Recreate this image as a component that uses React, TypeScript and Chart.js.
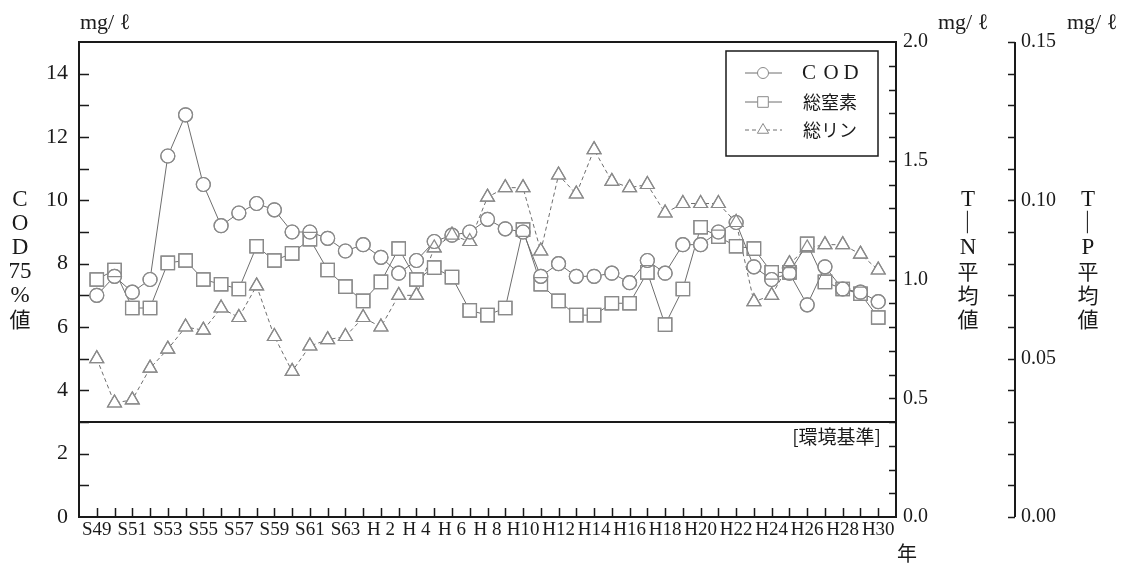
import React, { useEffect, useRef } from 'react';
import { Chart, registerables } from 'chart.js';

Chart.register(...registerables);

// ---------------- data ----------------
const years = [
  'S49', 'S50', 'S51', 'S52', 'S53', 'S54', 'S55', 'S56', 'S57', 'S58', 'S59', 'S60', 'S61', 'S62', 'S63',
  'H 1', 'H 2', 'H 3', 'H 4', 'H 5', 'H 6', 'H 7', 'H 8', 'H 9', 'H10',
  'H11', 'H12', 'H13', 'H14', 'H15', 'H16', 'H17', 'H18', 'H19', 'H20',
  'H21', 'H22', 'H23', 'H24', 'H25', 'H26', 'H27', 'H28', 'H29', 'H30',
];

// COD 75% value (mg/l), left axis
const cod = [
  7.0, 7.6, 7.1, 7.5, 11.4, 12.7, 10.5, 9.2, 9.6, 9.9, 9.7, 9.0, 9.0, 8.8, 8.4,
  8.6, 8.2, 7.7, 8.1, 8.7, 8.9, 9.0, 9.4, 9.1, 9.0,
  7.6, 8.0, 7.6, 7.6, 7.7, 7.4, 8.1, 7.7, 8.6, 8.6,
  9.0, 9.3, 7.9, 7.5, 7.7, 6.7, 7.9, 7.2, 7.1, 6.8,
];

// Total nitrogen mean (mg/l), first right axis
const tn = [
  1.00, 1.04, 0.88, 0.88, 1.07, 1.08, 1.00, 0.98, 0.96, 1.14, 1.08, 1.11, 1.17, 1.04, 0.97,
  0.91, 0.99, 1.13, 1.00, 1.05, 1.01, 0.87, 0.85, 0.88, 1.21,
  0.98, 0.91, 0.85, 0.85, 0.90, 0.90, 1.03, 0.81, 0.96, 1.22,
  1.18, 1.14, 1.13, 1.03, 1.03, 1.15, 0.99, 0.96, 0.94, 0.84,
];

// Total phosphorus mean (mg/l), second right axis
const tp = [
  0.050, 0.036, 0.037, 0.047, 0.053, 0.060, 0.059, 0.066, 0.063, 0.073, 0.057, 0.046, 0.054, 0.056, 0.057,
  0.063, 0.060, 0.070, 0.070, 0.085, 0.089, 0.087, 0.101, 0.104, 0.104,
  0.084, 0.108, 0.102, 0.116, 0.106, 0.104, 0.105, 0.096, 0.099, 0.099,
  0.099, 0.093, 0.068, 0.070, 0.080, 0.085, 0.086, 0.086, 0.083, 0.078,
];

const legendNames = ['C O D', '総窒素', '総リン'];
const codStandard = 3;
const codRange = [0, 15];
const tnRange = [0, 2];
const tpRange = [0, 0.15];

// ---------------- styles ----------------
const SERIF = '"Liberation Serif", "DejaVu Serif", "Noto Sans CJK JP", serif';
const JP = '"Noto Sans CJK JP", "Liberation Serif", sans-serif';
const AXIS = '#1a1a1a';
const LINE = '#6e6e6e';
const MARK = '#8a8a8a';
const TEXT = '#1a1a1a';

const pts = (arr: number[]) => arr.map((v, i) => ({ x: i, y: v }));

function drawMarker(ctx: CanvasRenderingContext2D, style: string, x: number, y: number, r: number) {
  ctx.beginPath();
  if (style === 'circle') {
    ctx.arc(x, y, r, 0, Math.PI * 2);
  } else if (style === 'rect') {
    const s = Math.SQRT1_2 * r;
    ctx.rect(x - s, y - s, 2 * s, 2 * s);
  } else {
    const w = r * Math.sin((2 * Math.PI) / 3);
    ctx.moveTo(x, y - r);
    ctx.lineTo(x + w, y + r / 2);
    ctx.lineTo(x - w, y + r / 2);
    ctx.closePath();
  }
  ctx.fillStyle = '#fff';
  ctx.fill();
  ctx.stroke();
}

const decor = {
  id: 'decor',
  afterDraw(chart: any) {
    const ctx: CanvasRenderingContext2D = chart.ctx;
    const { left, right, top, bottom } = chart.chartArea;
    const sx = chart.scales.x;
    const sy = chart.scales.y;
    const sn = chart.scales.yN;
    const sp = chart.scales.yP;
    ctx.save();

    // axis frame lines
    ctx.strokeStyle = AXIS;
    ctx.lineWidth = 2;
    ctx.beginPath();
    ctx.moveTo(left, top);
    ctx.lineTo(right, top);
    ctx.lineTo(right, bottom);
    ctx.lineTo(left, bottom);
    ctx.closePath();
    ctx.stroke();
    ctx.beginPath();
    ctx.moveTo(sp.left, sp.top);
    ctx.lineTo(sp.left, sp.bottom);
    ctx.stroke();

    // environmental standard line
    const ys = sy.getPixelForValue(codStandard);
    ctx.beginPath();
    ctx.moveTo(left, ys);
    ctx.lineTo(right, ys);
    ctx.stroke();

    // tick marks (inside)
    ctx.lineWidth = 1.5;
    ctx.beginPath();
    sx.ticks.forEach((t: any) => {
      if (t.value < 0 || t.value > years.length - 1) return;
      const px = Math.round(sx.getPixelForValue(t.value)) + 0.5;
      ctx.moveTo(px, bottom);
      ctx.lineTo(px, bottom - 9);
    });
    sy.ticks.forEach((t: any) => {
      if (t.value <= codRange[0] + 1e-9 || t.value >= codRange[1] - 1e-9) return;
      const py = Math.round(sy.getPixelForValue(t.value)) + 0.5;
      ctx.moveTo(left, py);
      ctx.lineTo(left + 10, py);
    });
    sn.ticks.forEach((t: any) => {
      if (t.value <= tnRange[0] + 1e-9 || t.value >= tnRange[1] - 1e-9) return;
      const py = Math.round(sn.getPixelForValue(t.value)) + 0.5;
      ctx.moveTo(right - 7, py);
      ctx.lineTo(right, py);
    });
    sp.ticks.forEach((t: any) => {
      const py = Math.round(sp.getPixelForValue(t.value)) + 0.5;
      ctx.moveTo(sp.left - 7, py);
      ctx.lineTo(sp.left, py);
    });
    ctx.stroke();

    // unit labels
    ctx.fillStyle = TEXT;
    ctx.textAlign = 'left';
    ctx.textBaseline = 'alphabetic';
    ctx.font = `22px ${SERIF}`;
    ctx.fillText('mg/ ℓ', 80, 29);
    ctx.fillText('mg/ ℓ', 938, 29);
    ctx.fillText('mg/ ℓ', 1067, 29);

    // vertical stacked titles
    const stack = (x: number, items: [string, number][]) => {
      ctx.textAlign = 'center';
      ctx.textBaseline = 'middle';
      items.forEach(([s, y]) => {
        if (s === '—') {
          ctx.save();
          ctx.translate(x, y);
          ctx.rotate(Math.PI / 2);
          ctx.font = `22px ${SERIF}`;
          ctx.fillText(s, 0, 0);
          ctx.restore();
          return;
        }
        const cjk = /[\u3000-\u9fff]/.test(s);
        ctx.font = cjk ? `21px ${JP}` : `23px ${SERIF}`;
        ctx.fillText(s, x, y);
      });
    };
    stack(20, [['C', 200], ['O', 224], ['D', 248], ['75', 272], ['%', 296], ['値', 319]]);
    stack(968, [['T', 200], ['—', 222], ['N', 248], ['平', 271], ['均', 295], ['値', 319]]);
    stack(1088, [['T', 200], ['—', 222], ['P', 248], ['平', 271], ['均', 295], ['値', 319]]);

    // 年
    ctx.font = `20px ${JP}`;
    ctx.fillText('年', 907, 553);

    // standard label
    ctx.textAlign = 'right';
    ctx.textBaseline = 'middle';
    ctx.font = `19px ${JP}`;
    ctx.fillText('[環境基準]', 881, 437);

    // legend
    const lx0 = 726, ly0 = 51, lx1 = 878, ly1 = 156;
    ctx.fillStyle = '#fff';
    ctx.fillRect(lx0, ly0, lx1 - lx0, ly1 - ly0);
    ctx.strokeStyle = AXIS;
    ctx.lineWidth = 1.5;
    ctx.strokeRect(lx0, ly0, lx1 - lx0, ly1 - ly0);
    const rows = [73, 102, 130];
    const styles = ['circle', 'rect', 'triangle'];
    const radii = [5.5, 7.5, 6.5];
    rows.forEach((ry, i) => {
      ctx.strokeStyle = LINE;
      ctx.lineWidth = 1;
      ctx.setLineDash(i === 2 ? [4, 3] : []);
      ctx.beginPath();
      ctx.moveTo(745, ry);
      ctx.lineTo(782, ry);
      ctx.stroke();
      ctx.setLineDash([]);
      ctx.strokeStyle = MARK;
      drawMarker(ctx, styles[i], 763, ry, radii[i]);
      ctx.fillStyle = TEXT;
      if (i === 0) {
        ctx.textAlign = 'center';
        ctx.font = `21px ${SERIF}`;
        const letters = legendNames[0].split(' ');
        [809, 831, 851].forEach((cx, k) => ctx.fillText(letters[k], cx, ry));
      } else {
        ctx.textAlign = 'left';
        ctx.font = `18px ${JP}`;
        ctx.fillText(legendNames[i], 803, ry);
      }
    });

    ctx.restore();
  },
};

export default function App() {
  const ref = useRef<HTMLCanvasElement>(null);

  useEffect(() => {
    const base = (arr: number[], axis: string, style: string, r: number, dash: number[]) => ({
      data: pts(arr),
      yAxisID: axis,
      borderColor: LINE,
      borderWidth: 1,
      borderDash: dash,
      pointStyle: style,
      pointRadius: r,
      pointBorderColor: MARK,
      pointBorderWidth: 1.2,
      pointBackgroundColor: '#fff',
      tension: 0,
      order: 1,
    });
    const outline = (arr: number[], axis: string, style: string, r: number) => ({
      data: pts(arr),
      yAxisID: axis,
      showLine: false,
      pointStyle: style,
      pointRadius: r,
      pointBorderColor: MARK,
      pointBorderWidth: 1.2,
      pointBackgroundColor: 'rgba(255,255,255,0)',
      order: 0,
    });

    const chart = new Chart(ref.current as HTMLCanvasElement, {
      type: 'line',
      data: {
        datasets: [
          base(cod, 'y', 'circle', 7, []),
          base(tn, 'yN', 'rect', 9.5, []),
          base(tp, 'yP', 'triangle', 8, [4, 3]),
          outline(cod, 'y', 'circle', 7),
          outline(tn, 'yN', 'rect', 9.5),
          outline(tp, 'yP', 'triangle', 8),
        ] as any,
      },
      options: {
        responsive: false,
        animation: false,
        devicePixelRatio: 1,
        layout: { padding: { top: 42, left: 0, right: 0, bottom: 0 } },
        plugins: { legend: { display: false }, tooltip: { enabled: false } },
        events: [],
        scales: {
          x: {
            type: 'linear',
            position: 'bottom',
            min: -1,
            max: years.length,
            grid: { display: false, drawTicks: false },
            border: { display: false },
            afterFit: (s: any) => { s.height = 50; },
            ticks: {
              stepSize: 1,
              autoSkip: false,
              maxRotation: 0,
              padding: 2,
              color: TEXT,
              font: { family: SERIF, size: 19 },
              callback: (v: any) => {
                const i = Math.round(Number(v));
                return i >= 0 && i < years.length && i % 2 === 0 ? years[i] : '';
              },
            },
          },
          y: {
            type: 'linear',
            position: 'left',
            min: codRange[0],
            max: codRange[1],
            grid: { display: false, drawTicks: false },
            border: { display: false },
            afterFit: (s: any) => { s.width = 79; },
            ticks: {
              stepSize: 1,
              autoSkip: false,
              padding: 11,
              color: TEXT,
              font: { family: SERIF, size: 22 },
              callback: (v: any) => {
                const n = Math.round(Number(v));
                return n % 2 === 0 && n < codRange[1] ? String(n) : '';
              },
            },
          },
          yN: {
            type: 'linear',
            position: 'right',
            min: tnRange[0],
            max: tnRange[1],
            grid: { display: false, drawTicks: false },
            border: { display: false },
            afterFit: (s: any) => { s.width = 119; },
            ticks: {
              stepSize: 0.1,
              autoSkip: false,
              padding: 7,
              color: TEXT,
              font: { family: SERIF, size: 20 },
              callback: (v: any) => {
                const n = Math.round(Number(v) * 10);
                return n % 5 === 0 ? (n / 10).toFixed(1) : '';
              },
            },
          },
          yP: {
            type: 'linear',
            position: 'right',
            min: tpRange[0],
            max: tpRange[1],
            grid: { display: false, drawTicks: false },
            border: { display: false },
            afterFit: (s: any) => { s.width = 112; },
            ticks: {
              stepSize: 0.01,
              autoSkip: false,
              padding: 6,
              color: TEXT,
              font: { family: SERIF, size: 20 },
              callback: (v: any) => {
                const n = Math.round(Number(v) * 100);
                return n % 5 === 0 ? (n / 100).toFixed(2) : '';
              },
            },
          },
        },
      } as any,
      plugins: [decor],
    });
    return () => chart.destroy();
  }, []);

  return (
    <div style={{ position: 'fixed', left: 0, top: 0, width: 1127, height: 567, background: '#fff' }}>
      <canvas ref={ref} width={1127} height={567} style={{ display: 'block' }} />
    </div>
  );
}
